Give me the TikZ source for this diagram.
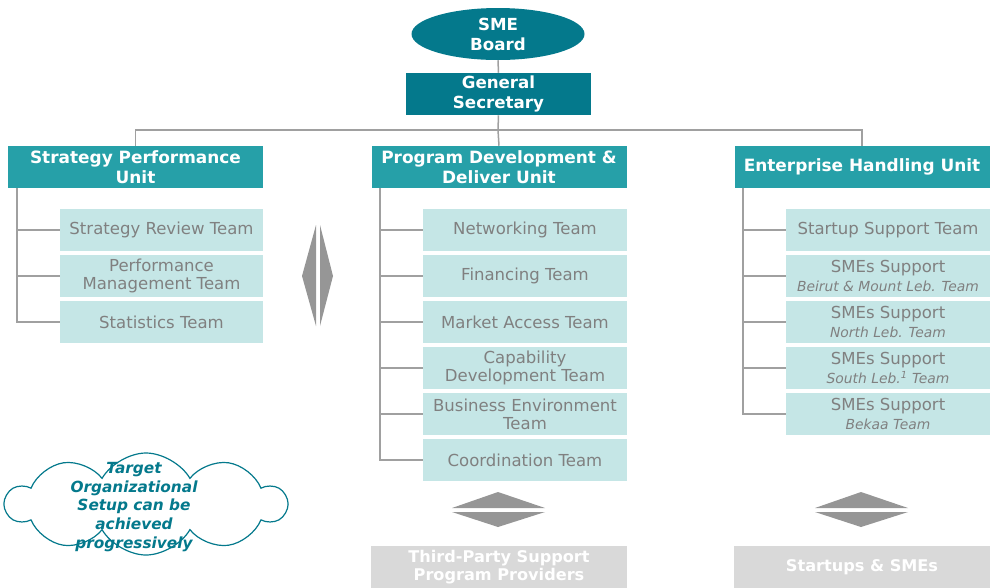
\documentclass[tikz,border=0pt]{standalone}
\usepackage{fontspec}
\setmainfont{DejaVu Sans}
\usetikzlibrary{shapes.geometric,shapes.symbols}
\newdimen\px \px=0.75pt
\newcommand\subt{\fontsize{10.4}{11.5}\selectfont\itshape}
\definecolor{dteal}{RGB}{4,121,140}
\definecolor{mteal}{RGB}{38,160,168}
\definecolor{lteal}{RGB}{197,230,230}
\definecolor{tgray}{RGB}{128,128,128}
\definecolor{cgray}{RGB}{160,160,160}
\definecolor{dgray}{RGB}{150,150,150}
\definecolor{bgray}{RGB}{217,217,217}
\tikzset{
  head/.style={fill=dteal, text=white, font=\fontsize{12.5}{15}\selectfont\bfseries, align=center, inner sep=0pt},
  unitbox/.style={rectangle, fill=mteal, text=white, minimum width=255\px, minimum height=42\px, inner sep=0pt, align=center, font=\fontsize{12.7}{15}\selectfont\bfseries},
  teambox/.style={rectangle, fill=lteal, text=tgray, minimum width=204\px, minimum height=42\px, inner sep=0pt, align=center, font=\fontsize{12.4}{13.6}\selectfont},
  endbox/.style={rectangle, fill=bgray, text=white, minimum width=256\px, minimum height=42\px, inner sep=0pt, align=center, font=\fontsize{12.1}{13.5}\selectfont\bfseries},
  conn/.style={draw=cgray, line width=1.5\px},
  arrowshape/.style={fill=dgray, draw=none},
}
\begin{document}
\begin{tikzpicture}[x=0.75pt,y=-0.75pt]
\useasboundingbox (0,0) rectangle (990,587);
% top
\node[head, ellipse, minimum width=173\px, minimum height=52\px] (board) at (498,34) {SME\\Board};
\node[head, rectangle, minimum width=185\px, minimum height=42\px] (gs) at (498.5,94) {General\\Secretary};
% units
\node[unitbox] (su) at (135.5,167) {Strategy Performance\\Unit};
\node[unitbox] (pu) at (499,167) {Program Development \&\\Deliver Unit};
\node[unitbox] (eu) at (862,167) {Enterprise Handling Unit};
\coordinate (bar) at (498,130);
\draw[conn] (board.south) -- (gs.north);
\draw[conn] (gs.south) -- (bar);
\draw[conn] (su.north) |- (bar) -| (eu.north);
\draw[conn] (bar) -- (pu.north);
% left teams
\node[teambox, minimum width=203\px] (s1) at (161.5,230) {Strategy Review Team};
\node[teambox, minimum width=203\px] (s2) at (161.5,276) {Performance\\Management Team};
\node[teambox, minimum width=203\px] (s3) at (161.5,322) {Statistics Team};
\coordinate (ls) at (17,188);
\foreach \n in {s1,s2,s3} \draw[conn] (ls) |- (\n.west);
% middle teams
\node[teambox] (p1) at (525,230) {Networking Team};
\node[teambox] (p2) at (525,276) {Financing Team};
\node[teambox] (p3) at (525,322) {Market Access Team};
\node[teambox] (p4) at (525,368) {Capability\\Development Team};
\node[teambox] (p5) at (525,414) {Business Environment\\Team};
\node[teambox] (p6) at (525,460) {Coordination Team};
\coordinate (lp) at (380,188);
\foreach \n in {p1,p2,p3,p4,p5,p6} \draw[conn] (lp) |- (\n.west);
% right teams
\node[teambox] (e1) at (888,230) {Startup Support Team};
\node[teambox] (e2) at (888,276) {SMEs Support\\{\subt Beirut \& Mount Leb. Team}};
\node[teambox] (e3) at (888,322) {SMEs Support\\{\subt North Leb. Team}};
\node[teambox] (e4) at (888,368) {SMEs Support\\{\subt South Leb.\textsuperscript{1} Team}};
\node[teambox] (e5) at (888,414) {SMEs Support\\{\subt Bekaa Team}};
\coordinate (le) at (743,188);
\foreach \n in {e1,e2,e3,e4,e5} \draw[conn] (le) |- (\n.west);
% vertical double diamond
\fill[arrowshape] (316,225) -- (302,276) -- (316,326) -- cycle;
\fill[arrowshape] (320,225) -- (333,276) -- (320,326) -- cycle;
% horizontal diamonds
\fill[arrowshape] (452,508) -- (498,492) -- (545,508) -- cycle;
\fill[arrowshape] (452,512) -- (498,527) -- (545,512) -- cycle;
\fill[arrowshape] (815,508) -- (861,492) -- (908,508) -- cycle;
\fill[arrowshape] (815,512) -- (861,527) -- (908,512) -- cycle;
% bottom boxes
\node[endbox] (tp) at (499,567) {Third-Party Support\\Program Providers};
\node[endbox] (ss) at (862,567) {Startups \& SMEs};
% cloud
\node[cloud, draw=dteal, line width=1.2\px, fill=white, cloud puffs=10, cloud puff arc=120, aspect=2.7, minimum width=280\px, minimum height=102\px, inner sep=0pt] (cl) at (146,504) {};
\node[text=dteal, font=\fontsize{11.5}{13.9}\selectfont\bfseries\itshape, align=center] (ct) at (134,507) {Target\\Organizational\\Setup can be\\achieved\\progressively};
\end{tikzpicture}
\end{document}
